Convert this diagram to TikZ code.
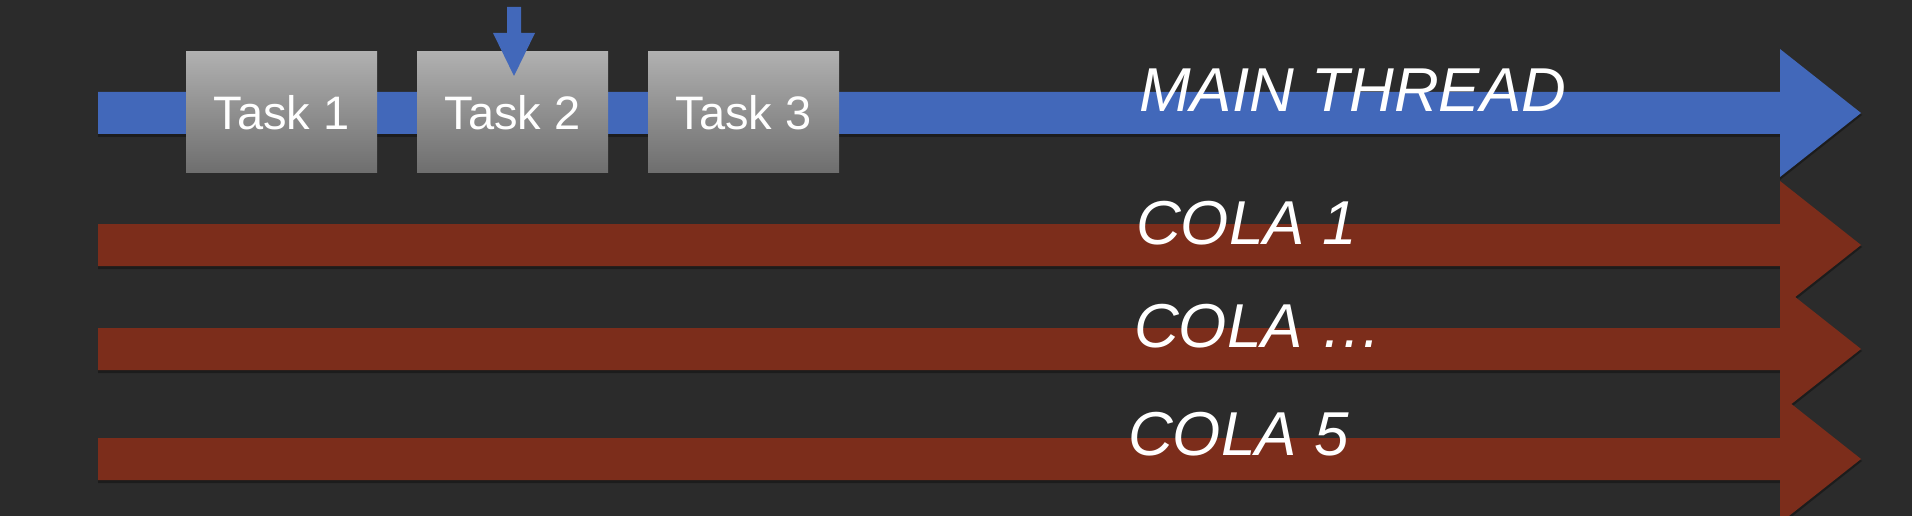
\documentclass[tikz,border=0pt]{standalone}
\usepackage{fontspec}
\setmainfont{Liberation Sans}
\definecolor{bgc}{RGB}{43,43,43}
\definecolor{mainblue}{RGB}{66,104,186}
\definecolor{colared}{RGB}{124,45,27}
\definecolor{shadowc}{RGB}{28,28,28}
\definecolor{boxtop}{RGB}{176,176,176}
\definecolor{boxbot}{RGB}{110,110,110}
\tikzset{
  pics/thread/.style={code={
    \fill[shadowc] (0,-20) -- (1682,-20) -- (1682,-62) -- (1764,2) -- (1682,67) -- (1682,24) -- (0,24) -- cycle;
    \fill[#1] (0,-21) -- (1682,-21) -- (1682,-64) -- (1763,0) -- (1682,64) -- (1682,21) -- (0,21) -- cycle;
  }},
  taskbox/.style={rectangle, inner sep=0pt, minimum width=191pt, minimum height=121pt,
    top color=boxtop, bottom color=boxbot, text=white, font=\fontsize{47}{50}\selectfont},
  threadlabel/.style={anchor=base west, inner sep=0pt, text=white, font=\fontsize{62}{66}\selectfont\itshape}
}
\begin{document}
\begin{tikzpicture}[x=1pt,y=-1pt]
\fill[bgc] (0,0) rectangle (1912,516);
\useasboundingbox (0,0) rectangle (1912,516);
% main thread
\pic at (98,113) {thread=mainblue};
\node[taskbox] (t1) at (281.5,112.5) {Task 1};
\node[taskbox] (t2) at (512.5,112.5) {Task 2};
\node[taskbox] (t3) at (743.5,112.5) {Task 3};
\coordinate (dtop) at (514,7);
\fill[mainblue] (dtop) ++(-7,0) -- ++(14,0) -- ++(0,26) -- ++(14,0) -- ++(-21,43) -- ++(-21,-43) -- ++(14,0) -- cycle;
\node[threadlabel] (mt) at (1139,112) {MAIN THREAD};
% cola threads
\pic at (98,245) {thread=colared};
\node[threadlabel] (c1) at (1136,244) {COLA 1};
\pic at (98,349) {thread=colared};
\node[threadlabel] (c2) at (1134,347) {COLA \ldots};
\pic at (98,459) {thread=colared};
\node[threadlabel] (c5) at (1128,455) {COLA 5};
\end{tikzpicture}
\end{document}
